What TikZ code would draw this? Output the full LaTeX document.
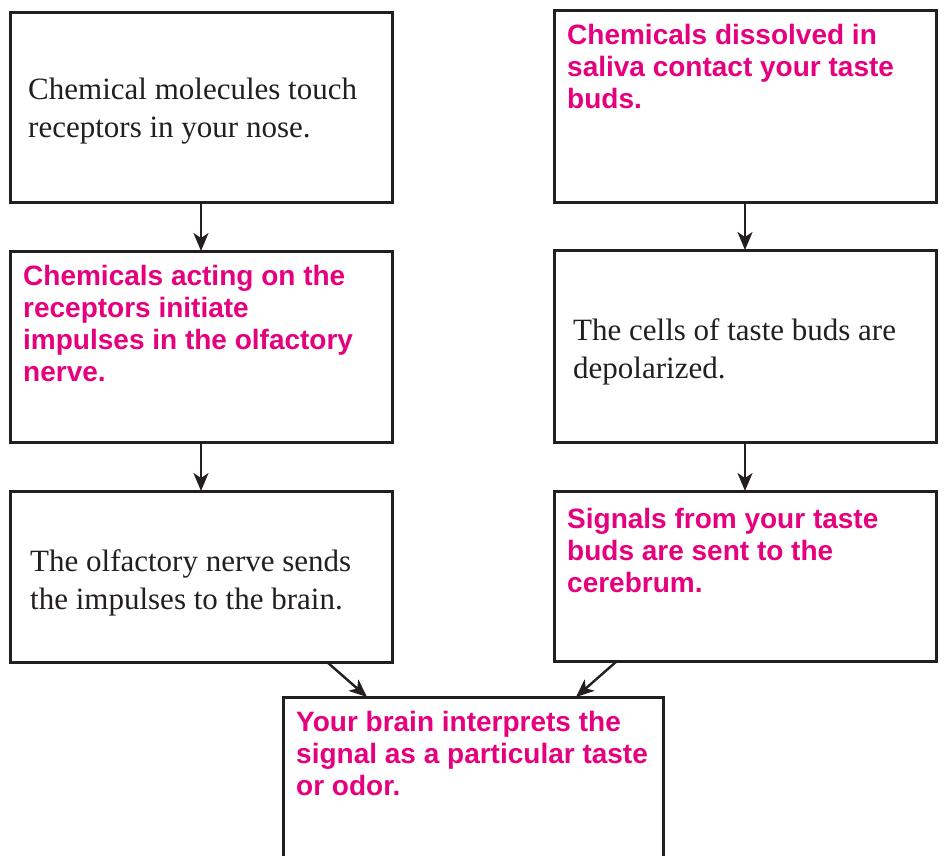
\documentclass[tikz,border=0pt]{standalone}
\usepackage{fontspec}
\newfontfamily\hvfont{Liberation Sans}
\newfontfamily\tmfont{Liberation Serif}
\usetikzlibrary{arrows.meta}
\definecolor{ink}{RGB}{35,31,32}
\definecolor{mag}{RGB}{230,0,126}
\begin{document}
\begin{tikzpicture}[x=1pt,y=-1pt,
  box/.style={draw=ink, line width=3pt, inner sep=0pt, outer sep=0pt, anchor=north west, minimum width=382pt},
  serif/.style={anchor=base west, inner sep=0pt, text=ink, font=\tmfont\fontsize{31}{38}\selectfont},
  boldtxt/.style={anchor=base west, inner sep=0pt, text=mag, font=\hvfont\bfseries\fontsize{28}{32}\selectfont},
  arr/.style={draw=ink, line width=2.4pt, -{Stealth[length=18pt,width=15pt,inset=5pt]}}]
\clip (0,0) rectangle (947,855);
\fill[white] (0,0) rectangle (947,855);
% boxes
\node[box, minimum height=190pt] (b1) at (10,12) {};
\node[box, minimum height=192pt] (b2) at (554,10) {};
\node[box, minimum height=191pt] (b3) at (10,251) {};
\node[box, minimum height=192pt] (b4) at (554,250) {};
\node[box, minimum height=171pt] (b5) at (10,491) {};
\node[box, minimum height=170pt] (b6) at (554,491) {};
\node[box, minimum width=380pt, minimum height=200pt] (b7) at (283,697) {};
% texts
\node[serif] (t1) at (28,99) {\vtop{\hbox{Chemical molecules touch}\hbox{receptors in your nose.}}};
\node[boldtxt] (t2) at (567,44) {\vtop{\hbox{Chemicals dissolved in}\hbox{saliva contact your taste}\hbox{buds.}}};
\node[boldtxt] (t3) at (23,285) {\vtop{\hbox{Chemicals acting on the}\hbox{receptors initiate}\hbox{impulses in the olfactory}\hbox{nerve.}}};
\node[serif] (t4) at (573,340) {\vtop{\hbox{The cells of taste buds are}\hbox{depolarized.}}};
\node[serif] (t5) at (30,571) {\vtop{\hbox{The olfactory nerve sends}\hbox{the impulses to the brain.}}};
\node[boldtxt] (t6) at (567,528) {\vtop{\hbox{Signals from your taste}\hbox{buds are sent to the}\hbox{cerebrum.}}};
\node[boldtxt] (t7) at (296,731) {\vtop{\hbox{Your brain interprets the}\hbox{signal as a particular taste}\hbox{or odor.}}};
% arrows
\draw[arr] (b1.south) -- (b3.north);
\draw[arr] (b2.south) -- (b4.north);
\draw[arr] (b3.south) -- (b5.north);
\draw[arr] (b4.south) -- (b6.north);
\draw[arr] ([xshift=-65pt]b5.south east) -- ([xshift=84pt]b7.north west);
\draw[arr] ([xshift=63pt]b6.south west) -- ([xshift=-87pt]b7.north east);
\end{tikzpicture}
\end{document}
